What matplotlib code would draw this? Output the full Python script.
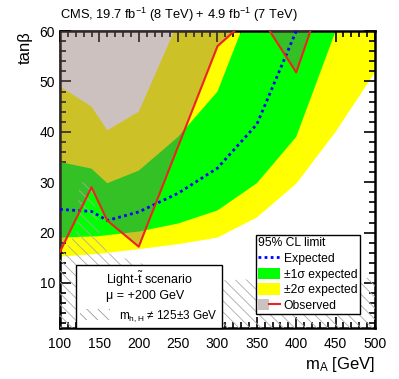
import matplotlib
matplotlib.use("Agg")
import matplotlib.pyplot as plt
import numpy as np
from matplotlib.patches import Patch, Rectangle
from matplotlib.lines import Line2D
from matplotlib.legend_handler import HandlerTuple
from matplotlib.ticker import MultipleLocator

plt.rcParams['font.family'] = ['Liberation Sans', 'DejaVu Sans']
plt.rcParams['mathtext.fontset'] = 'custom'
plt.rcParams['mathtext.rm'] = 'Liberation Sans'
plt.rcParams['mathtext.it'] = 'Liberation Sans:italic'
plt.rcParams['hatch.linewidth'] = 0.6

# +/-2 sigma band: lower-right edge and upper-left edge
m_yel_lo = [100, 150, 200, 250, 300, 350, 400, 450, 500]
t_yel_lo = [15.2, 15.8, 16.7, 17.7, 19.0, 23.0, 29.7, 40.0, 51.8]
m_yel_hi = [100, 140, 160, 200, 245]
t_yel_hi = [49.0, 45.0, 40.3, 44.0, 60.0]

# +/-1 sigma band
m_grn_lo = [100, 150, 200, 250, 300, 350, 400, 450]
t_grn_lo = [19.0, 19.3, 20.2, 21.8, 24.4, 29.8, 39.0, 60.0]
m_grn_hi = [100, 140, 160, 200, 250, 300, 330]
t_grn_hi = [34.0, 32.7, 29.8, 32.3, 39.0, 48.0, 60.0]

# expected and observed limits
m_exp = [100, 140, 160, 200, 250, 300, 350, 400]
t_exp = [24.6, 24.2, 22.4, 24.1, 27.8, 32.8, 41.5, 60.0]
m_obs = [100, 140, 160, 200, 300, 350, 400, 450]
t_obs = [16.2, 29.0, 22.4, 17.2, 57.0, 64.0, 51.8, 74.6]

# upper edge of the m_h,H != 125+-3 GeV region
m_hatch = [100, 120, 125, 140, 150, 160, 200, 250, 300, 400, 500]
t_hatch = [15.0, 20.0, 30.0, 30.0, 20.0, 16.0, 14.0, 12.0, 10.5, 11.0, 11.0]

fig = plt.figure(figsize=(3.99, 3.79), dpi=100)
ax = fig.add_axes([0.1504, 0.1338, 0.7894, 0.7842])

def band(m_lo, t_lo, m_hi, t_hi, corner):
    xs = list(m_lo) + [corner[0]] + list(m_hi[::-1])
    ys = list(t_lo) + [corner[1]] + list(t_hi[::-1])
    return xs, ys

xs, ys = band(m_yel_lo, t_yel_lo, m_yel_hi, t_yel_hi, (500, 70))
ax.fill(xs, ys, color='#ffff00', lw=0, zorder=1)
xs, ys = band(m_grn_lo, t_grn_lo, m_grn_hi, t_grn_hi, (450, 70))
ax.fill(xs, ys, color='#00ff00', lw=0, zorder=2)

# observed exclusion, translucent overlay
ox = list(m_obs) + [450, 100]
oy = list(t_obs) + [90, 90]
ax.fill(ox, oy, color=(0.5, 0.4, 0.375), alpha=0.4, lw=0, zorder=3)

hx = list(m_hatch) + [500, 100]
hy = list(t_hatch) + [0, 0]
ax.fill(hx, hy, facecolor='none', edgecolor='#aaaaaa', hatch='\\\\\\', lw=0, zorder=4)

ax.plot(m_exp, t_exp, color='#0000ff', ls=(0, (1, 1.2)), lw=2, zorder=5)
ax.plot(m_obs, t_obs, color='#ee2222', lw=1.5, zorder=6)

ax.set_xlim(100, 500)
ax.set_ylim(1, 60)
ax.xaxis.set_major_locator(MultipleLocator(50))
ax.xaxis.set_minor_locator(MultipleLocator(10))
ax.yaxis.set_major_locator(MultipleLocator(10))
ax.yaxis.set_minor_locator(MultipleLocator(2))
ax.tick_params(which='both', direction='in', top=True, right=True, labelsize=10, width=1.2)
ax.tick_params(which='major', length=8)
ax.tick_params(which='minor', length=4)
ax.tick_params(axis='x', pad=6)
for s in ax.spines.values():
    s.set_linewidth(1.8)

ax.set_ylabel('tanβ', fontsize=12, loc='top', labelpad=5)
ax.set_xlabel('m$_\\mathrm{A}$ [GeV]', fontsize=12, loc='right', labelpad=3)
fig.text(0.1504, 0.962, 'CMS, 19.7 fb$^{-1}$ (8 TeV) + 4.9 fb$^{-1}$ (7 TeV)', fontsize=9.3, va='center')

# scenario box
h_hatch = Patch(facecolor='white', edgecolor='#999999', hatch='\\\\\\', lw=0)
leg1 = ax.legend([h_hatch], ['m$_\\mathrm{h,H}$ ≠ 125±3 GeV'],
                 title='Light-$\\mathrm{\\tilde{t}}$ scenario\nμ = +200 GeV',
                 loc='upper left', bbox_to_anchor=(76 / 399, 1 - 265 / 379),
                 bbox_transform=fig.transFigure, fontsize=8.5, title_fontsize=9,
                 fancybox=False, framealpha=1, edgecolor='black', borderpad=0.35,
                 handlelength=2.5, handleheight=1.0, borderaxespad=0)
leg1.get_frame().set_linewidth(1.0)
ax.add_artist(leg1)

h_exp = Line2D([], [], color='#0000ff', ls=(0, (1, 1.2)), lw=2)
h_g = Patch(facecolor='#00ff00', lw=0)
h_y = Patch(facecolor='#ffff00', lw=0)
h_o = (Patch(facecolor=(0.8, 0.76, 0.75), lw=0), Line2D([], [], color='#ee2222', lw=1.5))
leg2 = ax.legend([h_exp, h_g, h_y, h_o], ['Expected', '±1σ expected', '±2σ expected', 'Observed'],
                 title='95% CL limit', handler_map={tuple: HandlerTuple(ndivide=None, pad=0)},
                 loc='upper left', bbox_to_anchor=(256 / 399, 1 - 235 / 379),
                 bbox_transform=fig.transFigure, fontsize=8.7, title_fontsize=8.7,
                 fancybox=False, framealpha=1, edgecolor='black', borderpad=0.2,
                 handlelength=1.8, handleheight=1.1, handletextpad=0.3, labelspacing=0.22,
                 borderaxespad=0)
leg2._legend_box.align = 'left'
leg2.get_frame().set_linewidth(1.0)

fig.savefig('out.png', dpi=100)
